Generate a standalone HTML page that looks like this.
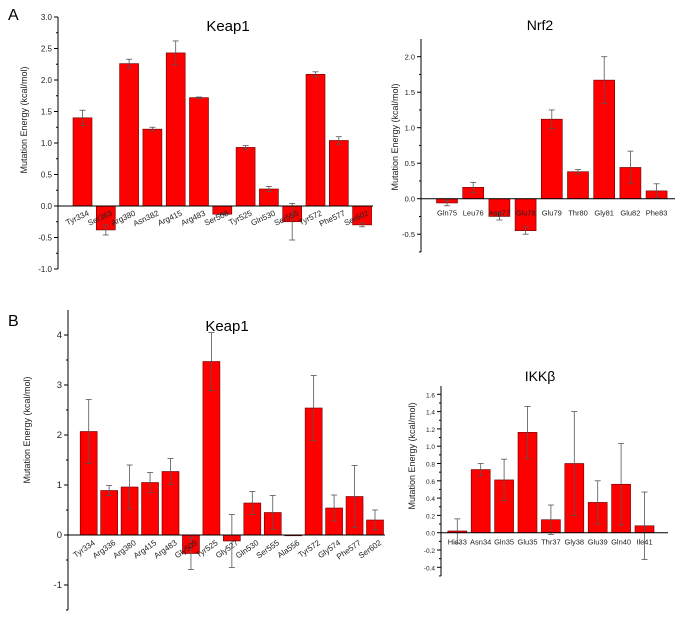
<!DOCTYPE html>
<html><head><meta charset="utf-8"><style>
body{margin:0;background:#fff}
svg{display:block;font-family:"Liberation Sans",sans-serif}
</style></head><body>
<svg id="fig" width="683" height="617">
<text x="8" y="20" font-size="16">A</text>
<text x="8" y="326" font-size="16">B</text>
</svg>
<script>
// Panel A Keap1
const aKeapCats=["Tyr334","Ser363","Arg380","Asn382","Arg415","Arg483","Ser508","Tyr525","Gln530","Ser555","Tyr572","Phe577","Ser602"];
const aKeapVals=[1.40,-0.38,2.26,1.22,2.43,1.72,-0.13,0.93,0.27,-0.25,2.09,1.04,-0.30];
const aKeapErr=[0.12,0.08,0.07,0.03,0.19,0.01,0.01,0.03,0.04,0.29,0.04,0.06,0.03];
const aKeapTicks=["3.0","2.5","2.0","1.5","1.0","0.5","0.0","-0.5","-1.0"];
// Panel A Nrf2
const aNrfCats=["Gln75","Leu76","Asp77","Glu78","Glu79","Thr80","Gly81","Glu82","Phe83"];
const aNrfVals=[-0.06,0.16,-0.25,-0.45,1.12,0.38,1.67,0.44,0.11];
const aNrfErr=[0.04,0.07,0.05,0.05,0.13,0.03,0.33,0.23,0.10];
const aNrfTicks=["2.0","1.5","1.0","0.5","0.0","-0.5"];
// Panel B Keap1
const bKeapCats=["Tyr334","Arg336","Arg380","Arg415","Arg483","Gly509","Tyr525","Gly527","Gln530","Ser555","Ala556","Tyr572","Gly574","Phe577","Ser602"];
const bKeapVals=[2.07,0.89,0.96,1.05,1.27,-0.37,3.47,-0.12,0.64,0.45,0,2.54,0.54,0.77,0.30];
const bKeapErr=[0.64,0.10,0.44,0.20,0.26,0.32,0.58,0.53,0.23,0.34,0,0.65,0.26,0.62,0.20];
const bKeapTicks=["4","3","2","1","0","-1"];
// Panel B IKKb
const bIkkCats=["His33","Asn34","Gln35","Glu35","Thr37","Gly38","Glu39","Gln40","Ile41"];
const bIkkVals=[0.02,0.73,0.61,1.16,0.15,0.80,0.35,0.56,0.08];
const bIkkErr=[0.14,0.07,0.24,0.30,0.17,0.60,0.25,0.47,0.39];
const bIkkTicks=["1.6","1.4","1.2","1.0","0.8","0.6","0.4","0.2","0.0","-0.2","-0.4"];

const NS="http://www.w3.org/2000/svg";
const svg=document.getElementById('fig');
function mk(tag,attrs,parent){const e=document.createElementNS(NS,tag);for(const k in attrs)e.setAttribute(k,attrs[k]);(parent||svg).appendChild(e);return e;}

function chart(o,cats,vals,errs,ticks){
  const g=mk('g',{});
  
  
  const y=v=>o.y0-v*o.ppu;
  const x=i=>o.c0+i*o.pitch;
  // axes
  const ya=mk('line',{x1:o.ax,x2:o.ax,y1:o.top,y2:o.bot,stroke:'#000','stroke-width':1},g);
  
  
  ticks.forEach(t=>{const v=parseFloat(t);
    mk('line',{x1:o.ax-4,x2:o.ax,y1:y(v),y2:y(v),stroke:'#000'},g);
    const tx=mk('text',{x:o.ax-6,y:y(v)+3,'font-size':o.tfs,'text-anchor':'end',fill:'#222'},g);
    tx.textContent=t;
    
    
    const mv=v-o.minor; if(mv>=o.ymin-1e-9) mk('line',{x1:o.ax-2,x2:o.ax,y1:y(mv),y2:y(mv),stroke:'#000'},g);
  });
  // bars
  cats.forEach((c,i)=>{const v=vals[i],e=errs[i],cx=x(i);
    const r=mk('rect',{x:cx-o.bw/2,y:Math.min(y(v),y(0)),width:o.bw,height:Math.max(Math.abs(y(v)-y(0)),0.8),fill:'#f00',stroke:'#600','stroke-width':0.6},g);
    
    
    if(e>0){
      mk('line',{x1:cx,x2:cx,y1:y(v+e),y2:y(v-e),stroke:'#555','stroke-width':0.8},g);
      mk('line',{x1:cx-3,x2:cx+3,y1:y(v+e),y2:y(v+e),stroke:'#555','stroke-width':0.8},g);
      mk('line',{x1:cx-3,x2:cx+3,y1:y(v-e),y2:y(v-e),stroke:'#555','stroke-width':0.8},g);
    }
    let lb;
    if(o.rot){lb=mk('text',{x:cx+7,y:y(0)+9,'font-size':o.lfs,'text-anchor':'end',fill:'#222',transform:`rotate(${o.rot} ${cx+7} ${y(0)+9})`},g);}
    else{lb=mk('text',{x:cx,y:y(0)+o.ldy,'font-size':o.lfs,'text-anchor':'middle',fill:'#222'},g);}
    lb.textContent=c;
    
    
  });
  const xa=mk('line',{x1:o.ax,x2:o.xend,y1:y(0),y2:y(0),stroke:'#000','stroke-width':1},g);
  
  
  const ti=mk('text',{x:o.tx,y:o.ty,'font-size':o.tsz,'text-anchor':'middle'},g);
  ti.textContent=o.title;
  
  
  const yt=mk('text',{x:o.ytx,y:o.yty,'font-size':o.ytfs,'text-anchor':'middle',fill:'#222',transform:`rotate(-90 ${o.ytx} ${o.yty})`},g);
  yt.textContent='Mutation Energy (kcal/mol)';
  
  
}

chart({name:'chart-a-keap1',ax:58,top:17,bot:269,y0:206,ppu:63,ymin:-1,minor:0.25,c0:82.5,pitch:23.3,bw:19,xend:373,rot:-25,lfs:8,tfs:8,tx:228,ty:31,tsz:15,title:'Keap1',ytx:27,yty:120,ytfs:9},aKeapCats,aKeapVals,aKeapErr,aKeapTicks);
chart({name:'chart-a-nrf2',ax:421,top:39,bot:252,y0:198.7,ppu:71,ymin:-0.75,minor:0.25,c0:447,pitch:26.2,bw:21,xend:675,rot:0,ldy:17,lfs:7.5,tfs:7.5,tx:540,ty:30,tsz:14,title:'Nrf2',ytx:398,yty:137,ytfs:9},aNrfCats,aNrfVals,aNrfErr,aNrfTicks);
chart({name:'chart-b-keap1',ax:68,top:310,bot:610,y0:535,ppu:50,ymin:-1.5,minor:0.5,c0:88.7,pitch:20.45,bw:17,xend:385,rot:-35,lfs:8,tfs:9.5,tx:227,ty:331,tsz:15,title:'Keap1',ytx:30,yty:430,ytfs:9},bKeapCats,bKeapVals,bKeapErr,bKeapTicks);
chart({name:'chart-b-ikkb',ax:441,top:386,bot:576,y0:532.7,ppu:86.5,ymin:-0.5,minor:0.1,c0:457.3,pitch:23.4,bw:19,xend:668,rot:0,ldy:12,lfs:7.5,tfs:6.5,tx:540,ty:381,tsz:14,title:'IKKβ',ytx:415,yty:456,ytfs:9},bIkkCats,bIkkVals,bIkkErr,bIkkTicks);
</script>
</body></html>
